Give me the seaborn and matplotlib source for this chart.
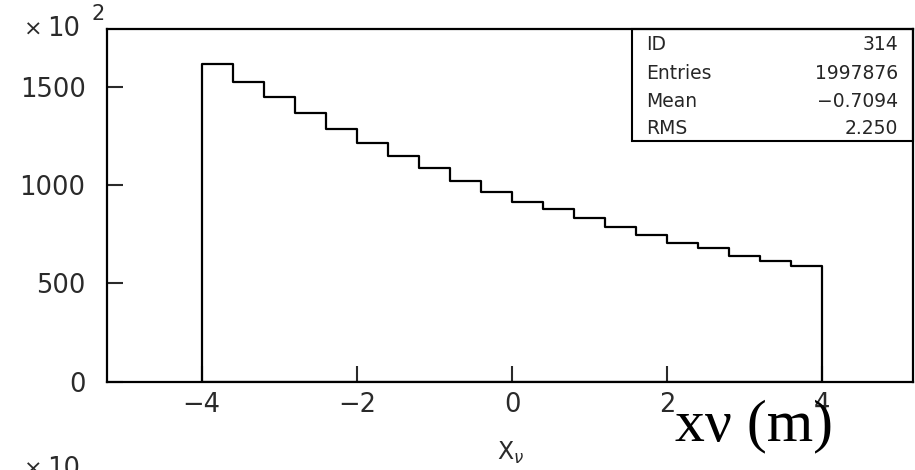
import numpy as np
import pandas as pd
import seaborn as sns
import matplotlib.pyplot as plt
from matplotlib.patches import Rectangle

# histogram contents in units of 10^2 entries, 20 bins between -4 and 4
bin_edges = list(np.linspace(-4.0, 4.0, 21))
counts = [1620, 1528, 1447, 1368, 1285, 1213, 1148, 1087, 1022, 968,
          913, 877, 831, 787, 745, 707, 679, 641, 614, 587]

# statistics box
stat_names = ["ID", "Entries", "Mean", "RMS"]
stat_values = ["314", "1997876", "\u22120.7094", "2.250"]

x_ticks = [-4, -2, 0, 2, 4]
y_ticks = [0, 500, 1000, 1500]

sns.set_style("ticks")
plt.rcParams["font.family"] = ["DejaVu Sans"]

fig = plt.figure(figsize=(9.15, 4.7), dpi=100)
ax = fig.add_axes([0.117, 0.188, 0.881, 0.750])

centers = [(a + b) / 2 for a, b in zip(bin_edges[:-1], bin_edges[1:])]
df = pd.DataFrame({"x": centers, "w": counts})
sns.histplot(data=df, x="x", weights="w", bins=bin_edges, element="step",
             fill=True, facecolor="none", color="black", linewidth=1.6, ax=ax)

ax.set_xlim(-5.22, 5.17)
ax.set_ylim(0, 1795)
ax.set_xticks(x_ticks)
ax.set_yticks(y_ticks)
ax.set_xlabel("")
ax.set_ylabel("")
for s in ax.spines.values():
    s.set_visible(True)
    s.set_linewidth(1.6)
    s.set_color("black")
ax.tick_params(direction="in", length=11.5, width=1.5, labelsize=18.5,
               colors="#2a2a2a")
ax.tick_params(axis="x", pad=7.5)
ax.tick_params(axis="y", pad=15.5)

# stats box in the upper right corner
ax.add_patch(Rectangle((0.651, 0.682), 0.349, 0.318, transform=ax.transAxes,
                       fill=False, lw=1.5, ec="black", clip_on=False))
rows_y = [0.940, 0.858, 0.779, 0.702]
for name, val, yy in zip(stat_names, stat_values, rows_y):
    ax.text(0.669, yy, name, transform=ax.transAxes, fontsize=13.5,
            va="baseline", ha="left")
    ax.text(0.981, yy, val, transform=ax.transAxes, fontsize=13.5,
            va="baseline", ha="right")

# exponent labels (top one for this plot, bottom one belongs to the next panel)
fig.text(0.026, 0.925, "\u00d7", fontsize=16, va="baseline", color="#2a2a2a")
fig.text(0.0515, 0.923, "10", fontsize=18.5, va="baseline", color="#2a2a2a")
fig.text(0.1005, 0.957, "2", fontsize=15, va="baseline", color="#2a2a2a")
fig.text(0.026, -0.011, "\u00d7", fontsize=16, va="baseline", color="#2a2a2a")
fig.text(0.0515, -0.013, "10", fontsize=18.5, va="baseline", color="#2a2a2a")

# axis title
fig.text(0.558, 0.0213, "X$_\\nu$", fontsize=17, va="baseline", ha="center",
         color="#2a2a2a")

# overlaid annotation
fig.text(0.738, 0.0638, "x\u03bd (m)", family="Liberation Serif", fontsize=43,
         va="baseline", ha="left", color="black")

fig.savefig("out.png", dpi=100)
